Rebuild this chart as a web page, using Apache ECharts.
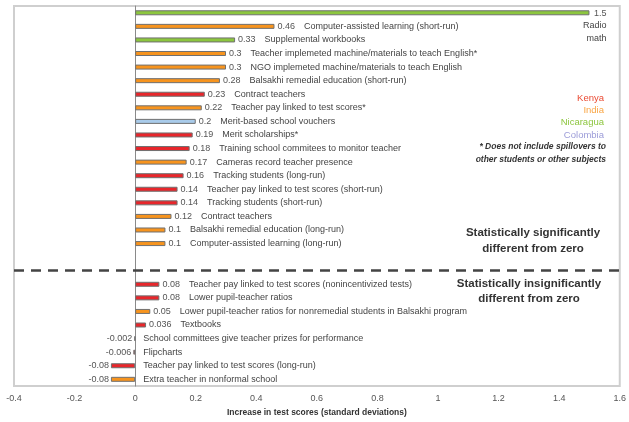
<!DOCTYPE html>
<html>
<head>
<meta charset="utf-8">
<script src="https://cdn.jsdelivr.net/npm/echarts@6/dist/echarts.min.js"></script>
<style>
  html, body { margin: 0; padding: 0; background: #fff; }
  #main { width: 629px; height: 422px; }
</style>
</head>
<body>
<div id="main"></div>
<script>
// one slot per bar, top to bottom; two empty slots separate the groups
const programs = [
  'Radio math',
  'Computer-assisted learning (short-run)',
  'Supplemental workbooks',
  'Teacher implemeted machine/materials to teach English*',
  'NGO implemeted machine/materials to teach English',
  'Balsakhi remedial education (short-run)',
  'Contract teachers',
  'Teacher pay linked to test scores*',
  'Merit-based school vouchers',
  'Merit scholarships*',
  'Training school commitees to monitor teacher',
  'Cameras record teacher presence',
  'Tracking students (long-run)',
  'Teacher pay linked to test scores (short-run)',
  'Tracking students (short-run)',
  'Contract teachers',
  'Balsakhi remedial education (long-run)',
  'Computer-assisted learning (long-run)',
  '',
  '',
  'Teacher pay linked to test scores (nonincentivized tests)',
  'Lower pupil-teacher ratios',
  'Lower pupil-teacher ratios for nonremedial students in Balsakhi program',
  'Textbooks',
  'School committees give teacher prizes for performance',
  'Flipcharts',
  'Teacher pay linked to test scores (long-run)',
  'Extra teacher in nonformal school'
];

const effects = [
  1.5, 0.46, 0.33, 0.3, 0.3, 0.28, 0.23, 0.22, 0.2, 0.19, 0.18, 0.17, 0.16,
  0.14, 0.14, 0.12, 0.1, 0.1,
  null, null,
  0.08, 0.08, 0.05, 0.036, -0.002, -0.006, -0.08, -0.08
];

const countries = [
  'Nicaragua', 'India', 'Nicaragua', 'India', 'India', 'India', 'Kenya', 'India',
  'Colombia', 'Kenya', 'Kenya', 'India', 'Kenya', 'Kenya', 'Kenya', 'India',
  'India', 'India',
  '', '',
  'Kenya', 'Kenya', 'India', 'Kenya', 'Kenya', 'Kenya', 'Kenya', 'India'
];

const legendCountries = ['Kenya', 'India', 'Nicaragua', 'Colombia'];

const xMin = -0.4;
const xMax = 1.6;
const xStep = 0.2;

const barColors = {
  Kenya: '#e8262b',
  India: '#f7941e',
  Nicaragua: '#8cc63e',
  Colombia: '#a9cbea'
};
const legendColors = {
  Kenya: '#ea4a33',
  India: '#f9a645',
  Nicaragua: '#8dc63f',
  Colombia: '#9c9cd8'
};

const FONT = '"Liberation Sans", Arial, Helvetica, sans-serif';

const richStyles = {
  v: { color: '#555', fontSize: 9, fontFamily: FONT },
  d: { color: '#444', fontSize: 9, fontFamily: FONT, padding: [0, 0, 0, 9] },
  r: { color: '#444', fontSize: 9, fontFamily: FONT, align: 'right', lineHeight: 12.5 },
  t: { color: '#555', fontSize: 9, fontFamily: FONT, align: 'right', lineHeight: 12.5 }
};

const barData = effects.map((v, i) => {
  if (v === null) return '-';
  let label;
  if (i === 0) {
    const words = programs[i].split(' ');
    label = {
      position: ['100%', '50%'],
      offset: [17, -6],
      align: 'right',
      verticalAlign: 'top',
      formatter: `{t|${v}}\n{r|${words[0]}}\n{r|${words[1]}}`
    };
  } else if (v >= 0) {
    label = { position: 'right', distance: 3, formatter: `{v|${v}}{d|${programs[i]}}` };
  } else {
    label = { position: 'left', distance: 2, formatter: `{v|${v}}` };
  }
  return { value: v, itemStyle: { color: barColors[countries[i]] || '#888' }, label };
});

// names of programs with a negative effect sit to the right of zero
const negativeNames = effects.map((v, i) =>
  v !== null && v < 0 ? { value: 0, label: { formatter: programs[i] } } : '-'
);

const graphics = [];
legendCountries.forEach((c, k) => {
  graphics.push({
    type: 'text', x: 604, y: 98 + k * 12.3,
    style: {
      text: c, fill: legendColors[c], font: `9.5px ${FONT}`,
      textAlign: 'right', align: 'right', textVerticalAlign: 'middle', verticalAlign: 'middle'
    }
  });
});
['* Does not include spillovers to', 'other students or other subjects'].forEach((t, k) => {
  graphics.push({
    type: 'text', x: 606, y: 147 + k * 12.3,
    style: {
      text: t, fill: '#333', font: `italic bold 8.5px ${FONT}`,
      textAlign: 'right', align: 'right', textVerticalAlign: 'middle', verticalAlign: 'middle'
    }
  });
});
[
  ['Statistically significantly', 533, 233],
  ['different from zero', 533, 249],
  ['Statistically insignificantly', 529, 284],
  ['different from zero', 529, 299]
].forEach(([t, x, y]) => {
  graphics.push({
    type: 'text', x, y,
    style: {
      text: t, fill: '#333', font: `bold 11.5px ${FONT}`,
      textAlign: 'center', align: 'center', textVerticalAlign: 'middle', verticalAlign: 'middle'
    }
  });
});

const chart = echarts.init(document.getElementById('main'));

chart.setOption({
  animation: false,
  grid: {
    left: 14,
    right: 9,
    top: 6,
    bottom: 33,
    show: true,
    borderColor: '#cfcfcf',
    borderWidth: 2
  },
  xAxis: {
    type: 'value',
    min: xMin,
    max: xMax,
    interval: xStep,
    name: 'Increase in test scores (standard deviations)',
    nameLocation: 'middle',
    nameGap: 20,
    nameTextStyle: { color: '#333', fontSize: 8.5, fontWeight: 'bold', fontFamily: FONT },
    axisLine: { show: false },
    axisTick: { show: false },
    splitLine: { show: false },
    axisLabel: { color: '#555', fontSize: 9, fontFamily: FONT, margin: 8 }
  },
  yAxis: {
    type: 'category',
    inverse: true,
    data: programs,
    axisLine: { show: true, onZero: true, lineStyle: { color: '#8a8a8a', width: 1 } },
    axisTick: { show: false },
    axisLabel: { show: false },
    splitLine: { show: false }
  },
  series: [
    {
      type: 'bar',
      barWidth: 5,
      barGap: '-100%',
      data: barData,
      itemStyle: { borderColor: '#707070', borderWidth: 1 },
      label: { show: true, rich: richStyles },
      markLine: {
        silent: true,
        symbol: 'none',
        label: { show: false },
        lineStyle: { type: [10, 7], width: 2.5, color: '#444' },
        data: [{ yAxis: 18.8 }]
      }
    },
    {
      type: 'bar',
      barWidth: 5,
      barGap: '-100%',
      data: negativeNames,
      itemStyle: { color: 'transparent', borderWidth: 0 },
      label: {
        show: true,
        position: 'right',
        distance: 8,
        color: '#444',
        fontSize: 9,
        fontFamily: FONT
      }
    }
  ],
  graphic: graphics
});

window.addEventListener('resize', () => {
  chart.resize();
});
</script>
</body>
</html>
